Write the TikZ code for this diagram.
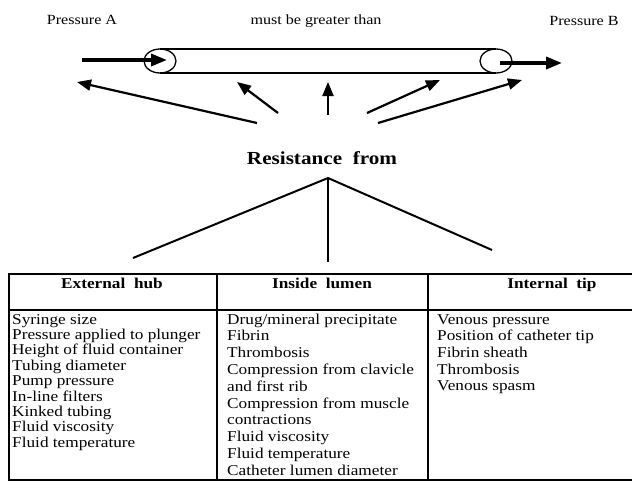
\documentclass[tikz,border=0pt]{standalone}
\usepackage{fontspec}
\setmainfont[FakeStretch=1.15]{Liberation Serif}
\usetikzlibrary{arrows.meta}

\begin{document}
\begin{tikzpicture}[x=1pt,y=-1pt,
  >={Triangle[length=14pt,width=11pt]},
  toptext/.style={font=\fontsize{14}{16}\selectfont,inner sep=0pt,anchor=base},
  colhead/.style={font=\bfseries\fontsize{15}{17}\selectfont,inner sep=0pt,anchor=base},
  item/.style={font=\fontsize{15}{17}\selectfont,inner sep=0pt,anchor=base west},
  tube/.style={line width=1.3pt},
  push/.style={->,line width=3.5pt,>={Triangle[length=16pt,width=12pt]}},
  force/.style={->,line width=2.2pt},
  branch/.style={line width=2pt},
  rule/.style={line width=1.2pt}]
\useasboundingbox (0,0) rectangle (632,482);

% pressures
\node[toptext] (pA) at (82,24) {Pressure A};
\node[toptext] (gt) at (316,24) {must be greater than};
\node[toptext] (pB) at (584,25) {Pressure B};

% catheter
\coordinate (hubL) at (160,61);
\coordinate (tipR) at (496,61);
\draw[tube] (hubL) ellipse [x radius=16, y radius=12];
\draw[tube] (tipR) ellipse [x radius=16, y radius=12];
\draw[tube] (160,49) -- (496,49) (160,73) -- (496,73);
\coordinate (inA) at (82,60);
\coordinate (outB) at (562,63);
\draw[push] (inA) -- (167,60);
\draw[push] (500,63) -- (outB);

% resistance arrows
\coordinate (r1) at (257,123); \coordinate (t1) at (77,82);
\coordinate (r2) at (278,113); \coordinate (t2) at (237,82);
\coordinate (r3) at (328,115); \coordinate (t3) at (328,82);
\coordinate (r4) at (367,113); \coordinate (t4) at (440,80);
\coordinate (r5) at (378,123); \coordinate (t5) at (522,80);
\foreach \k in {1,...,5}
  \draw[force] (r\k) -- (t\k);

\node[font=\bfseries\fontsize{18.4}{20}\selectfont,inner sep=0pt,anchor=base] (res) at (322,164) {Resistance~~from};
\coordinate (apex) at (328,178);
\draw[branch] (apex) -- (133,258);
\draw[branch] (apex) -- (328,262);
\draw[branch] (apex) -- (492,250);

% table
\draw[rule] (632,274) -- (9,274) -- (9,480) -- (632,480);
\draw[rule] (9,310) -- (632,310);
\draw[rule] (217,274) -- (217,480) (428,274) -- (428,480);

\node[colhead] (hub) at (112,288) {External~~hub};
\node[colhead] (lumen) at (322,288) {Inside~~lumen};
\node[colhead] (tip) at (552,288) {Internal~~tip};

\foreach \txt [count=\i] in {Syringe size,Pressure applied to plunger,Height of fluid container,Tubing diameter,Pump pressure,In-line filters,Kinked tubing,Fluid viscosity,Fluid temperature}
  \node[item] (hub\i) at (12,{308.6+15.4*\i}) {\txt};
\foreach \txt [count=\i] in {Drug/mineral precipitate,Fibrin,Thrombosis,Compression from clavicle,and first rib,Compression from muscle,contractions,Fluid viscosity,Fluid temperature,Catheter lumen diameter}
  \node[item] (lumen\i) at (227,{307.2+16.8*\i}) {\txt};
\foreach \txt [count=\i] in {Venous pressure,Position of catheter tip,Fibrin sheath,Thrombosis,Venous spasm}
  \node[item] (tip\i) at (437,{307.3+16.7*\i}) {\txt};
\end{tikzpicture}
\end{document}
